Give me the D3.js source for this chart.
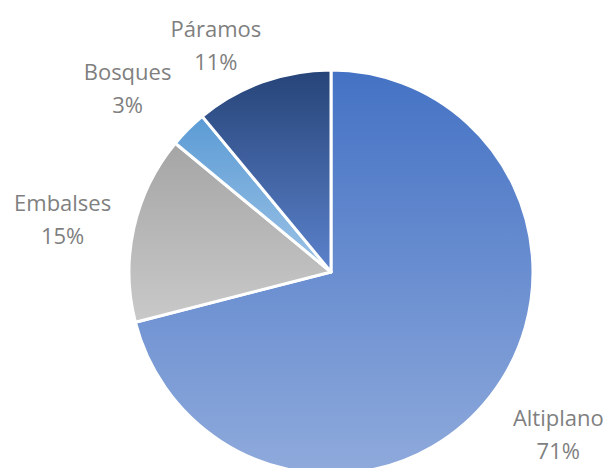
<!DOCTYPE html>
<html>
<head>
<meta charset="utf-8">
<script src="https://d3js.org/d3.v7.min.js"></script>
<style>
  html, body { margin: 0; padding: 0; background: #fff; }
  svg { display: block; }
</style>
</head>
<body>
<div id="chart"></div>
<script>
// data
const categories = ["Altiplano", "Embalses", "Bosques", "Páramos"];
const values = [71, 15, 3, 11];
const percentLabels = ["71%", "15%", "3%", "11%"];

// gradient stops per slice (top, bottom)
const topColors = ["#4472C4", "#A5A5A5", "#5B9BD5", "#264478"];
const bottomColors = ["#8FAADC", "#C9C9C9", "#9DC3E6", "#5C82CC"];

const width = 609, height = 468;
const cx = 331, cy = 272, radius = 202;

// small nudges so labels sit like Excel's best-fit placement
const labelNudge = {
  "Altiplano": [10, -8],
  "Embalses": [0, 6],
  "Bosques": [-9, 9],
  "Páramos": [-22, 31]
};

const svg = d3.select("#chart")
  .append("svg")
  .attr("width", width)
  .attr("height", height);

const defs = svg.append("defs");
categories.forEach((c, i) => {
  const g = defs.append("linearGradient")
    .attr("id", "grad" + i)
    .attr("x1", 0).attr("y1", 0)
    .attr("x2", 0).attr("y2", 1);
  g.append("stop").attr("offset", "0%").attr("stop-color", topColors[i]);
  g.append("stop").attr("offset", "100%").attr("stop-color", bottomColors[i]);
});

const pie = d3.pie().sort(null).value(d => d.value);
const data_ready = pie(categories.map((c, i) => ({ name: c, value: values[i], label: percentLabels[i], i: i })));

const arc = d3.arc().innerRadius(0).outerRadius(radius);
const labelArc = d3.arc().innerRadius(275).outerRadius(275);

const g = svg.append("g").attr("transform", `translate(${cx}, ${cy})`);

g.selectAll("path")
  .data(data_ready)
  .join("path")
  .attr("d", arc)
  .attr("fill", d => `url(#grad${d.data.i})`)
  .attr("stroke", "#ffffff")
  .attr("stroke-width", 3)
  .attr("stroke-linejoin", "round");

const labels = g.selectAll("text.lbl")
  .data(data_ready)
  .join("text")
  .attr("class", "lbl")
  .attr("transform", d => {
    const p = labelArc.centroid(d);
    const n = labelNudge[d.data.name] || [0, 0];
    return `translate(${p[0] + n[0]}, ${p[1] + n[1]})`;
  })
  .attr("text-anchor", "middle")
  .style("font-family", "'Open Sans', 'Noto Sans', sans-serif")
  .style("font-size", "22px")
  .style("fill", "#7F7F7F");

labels.append("tspan")
  .attr("x", 0).attr("y", -16)
  .attr("dominant-baseline", "central")
  .text(d => d.data.name);

labels.append("tspan")
  .attr("x", 0).attr("y", 17)
  .attr("dominant-baseline", "central")
  .text(d => d.data.label);
</script>
</body>
</html>
